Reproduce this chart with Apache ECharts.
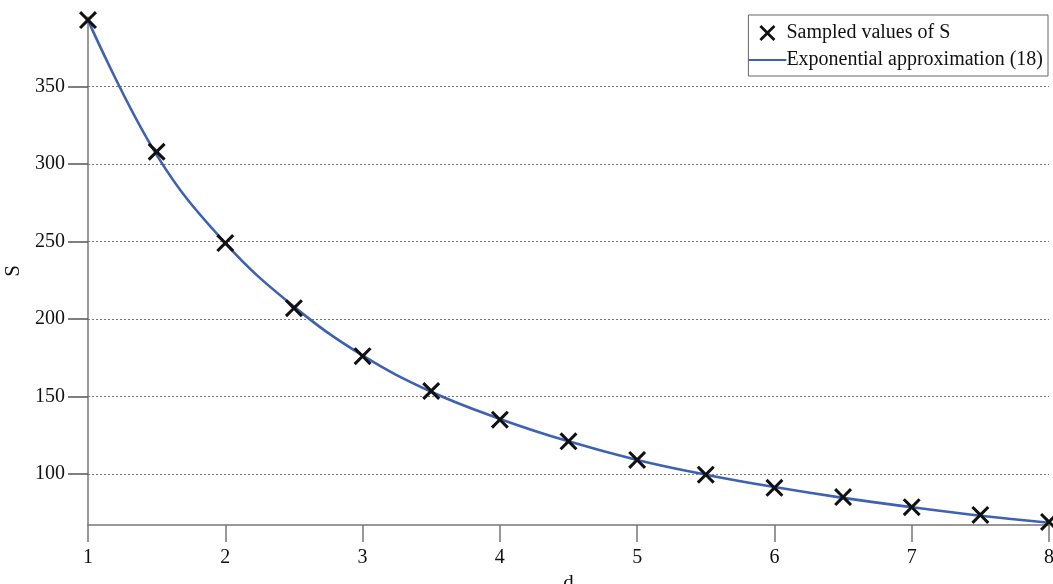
<!DOCTYPE html>
<html lang="en">
<head>
    <meta charset="UTF-8">
    <title>S vs d</title>
    <script src="https://cdn.jsdelivr.net/npm/echarts@6/dist/echarts.min.js"></script>
    <style>
        html, body { margin: 0; padding: 0; background: #fff; }
        #main { width: 1053px; height: 584px; }
    </style>
</head>
<body>
<div id="main"></div>
<script>
    // values
    var dValues = [1, 1.5, 2, 2.5, 3, 3.5, 4, 4.5, 5, 5.5, 6, 6.5, 7, 7.5, 8];
    var sampled = [393, 308, 249, 207, 176, 153.5, 135, 121, 109, 99.5, 91, 85, 78.5, 73.5, 69];
    var approx = [393, 306, 249, 208, 176.5, 153, 135.5, 121, 109, 99.5, 91.5, 84.5, 78.5, 73, 68.5];
    var yTicks = [100, 150, 200, 250, 300, 350];
    var xTicks = [1, 2, 3, 4, 5, 6, 7, 8];

    var crossPath = 'path://M0,1.2L1.2,0L5,3.8L8.8,0L10,1.2L6.2,5L10,8.8L8.8,10L5,6.2L1.2,10L0,8.8L3.8,5Z';
    var linePath = 'path://M0,0L40,0L40,2L0,2Z';
    var serif = '"Liberation Serif", "DejaVu Serif", serif';

    var myChart = echarts.init(document.getElementById('main'));
    var option = {
        animation: false,
        grid: { left: 88, right: 4, top: 17, bottom: 59, outerBoundsMode: 'none', containLabel: false },
        legend: {
            orient: 'vertical',
            right: 5,
            top: 15,
            backgroundColor: '#fff',
            borderColor: '#666',
            borderWidth: 1,
            padding: [8, 5, 6, 0],
            itemGap: 7,
            itemWidth: 38,
            itemHeight: 16,
            textStyle: { fontFamily: serif, fontSize: 20, color: '#111', padding: [0, 0, 0, -5] },
            data: [
                { name: 'Sampled values of S', icon: crossPath, itemStyle: { color: '#111' } },
                { name: 'Exponential approximation (18)', icon: linePath, itemStyle: { color: '#3d62b3' } }
            ]
        },
        xAxis: {
            type: 'value',
            min: 1,
            max: 8,
            name: 'd',
            nameLocation: 'middle',
            nameGap: 48,
            nameTextStyle: { fontFamily: serif, fontSize: 21, color: '#111' },
            axisLine: { lineStyle: { color: '#777', width: 1.5 } },
            axisTick: { customValues: xTicks, length: 17, lineStyle: { color: '#777', width: 1.5 } },
            axisLabel: { customValues: xTicks, fontFamily: serif, fontSize: 20, color: '#111', margin: 23 },
            splitLine: { show: false }
        },
        yAxis: {
            type: 'value',
            min: 67,
            max: 395,
            name: 'S',
            nameLocation: 'middle',
            nameRotate: 90,
            nameGap: 64,
            nameMoveOverlap: false,
            nameTextStyle: { fontFamily: serif, fontSize: 21, color: '#111' },
            axisLine: { show: true, lineStyle: { color: '#777', width: 1.5 } },
            axisTick: { customValues: yTicks, length: 20, lineStyle: { color: '#555', width: 1.5 } },
            axisLabel: { customValues: yTicks, fontFamily: serif, fontSize: 20, color: '#111', margin: 23 },
            splitLine: { show: true, lineStyle: { color: '#777', type: [2, 2], width: 1 } }
        },
        series: [
            {
                name: 'Exponential approximation (18)',
                type: 'line',
                smooth: 0.4,
                symbol: 'none',
                z: 2,
                lineStyle: { color: '#3d62b3', width: 2.6 },
                itemStyle: { color: '#3d62b3' },
                data: dValues.map(function (d, i) { return [d, approx[i]]; })
            },
            {
                name: 'Sampled values of S',
                type: 'scatter',
                symbol: crossPath,
                symbolSize: 18,
                z: 3,
                itemStyle: { color: '#111', opacity: 1 },
                data: dValues.map(function (d, i) { return [d, sampled[i]]; })
            }
        ]
    };
    myChart.setOption(option);
</script>
</body>
</html>
